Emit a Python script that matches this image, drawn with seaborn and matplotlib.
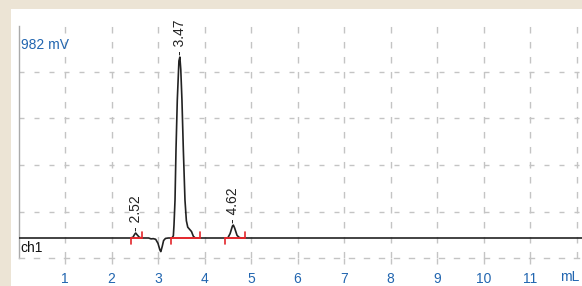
import matplotlib
matplotlib.use("Agg")
import matplotlib.pyplot as plt
from matplotlib.patches import Rectangle
import seaborn as sns
import pandas as pd

# ---- data ----
volume_ml = [0.00, 2.40, 2.46, 2.50, 2.52, 2.55, 2.60, 2.65, 2.80, 2.85, 2.90,
             2.95, 3.00, 3.04, 3.06, 3.09, 3.12, 3.16, 3.22, 3.30, 3.33, 3.344,
             3.366, 3.387, 3.415, 3.45, 3.47, 3.49, 3.515, 3.545, 3.58, 3.61,
             3.64, 3.68, 3.72, 3.76, 3.80, 4.50, 4.55, 4.60, 4.62, 4.65, 4.70,
             4.75, 4.80, 12.12]
signal_mv = [0, 0, 3, 18, 23, 15, 3, 0, 0, -4, -3,
             -6, -25, -55, -63, -40, -12, -2, 0, 0, 10, 60,
             176, 408, 639, 820, 838, 780, 639, 408, 176, 80,
             50, 40, 30, 8, 0, 0, 20, 55, 60, 45, 12,
             2, 0, 0]
peak_rt = [2.52, 3.47, 4.62]
peak_height = [23, 838, 60]
peak_start = [2.42, 3.27, 4.44]
peak_end = [2.66, 3.91, 4.87]
x_ticks = [1, 2, 3, 4, 5, 6, 7, 8, 9, 10, 11]
x_unit = "mL"
y_label = "982 mV"
channel = "ch1"

# ---- style ----
sns.set_style("white")
plt.rcParams["font.family"] = ["Liberation Sans", "DejaVu Sans"]
plt.rcParams["lines.scale_dashes"] = False

BLUE = "#2266b0"
GRID = "#c4c4c4"
RED = "#e3262b"
FS = 10

fig = plt.figure(figsize=(5.82, 2.86), dpi=100, facecolor="#ece4d5")
fig.patches.append(Rectangle((11 / 582, 0), 1, (286 - 9) / 286,
                             transform=fig.transFigure, facecolor="white",
                             edgecolor="none", zorder=-5))
ax = fig.add_axes([18.5 / 582, 1 - 258 / 286, 1 - 18.5 / 582, 232 / 286])
ax.set_zorder(2)
ax.set_facecolor("none")

ymax = 982.0
ymin = -ymax * 20 / 212
ax.set_xlim(0, 563.5 / 46.5)
ax.set_ylim(ymin, ymax)

# grid
step = (ymax - ymin) * 46.5 / 232
hy = [ymin + step * k for k in range(1, 5)]
for y in hy:
    ax.axhline(y, color=GRID, lw=1.0, ls=(0, (3.6, 7.2)), zorder=1)
for x in x_ticks + [12]:
    ax.axvline(x, color=GRID, lw=1.0, ls=(0, (4.7, 6.1)), zorder=1)

df = pd.DataFrame({"mL": volume_ml, "mV": signal_mv})
sns.lineplot(data=df, x="mL", y="mV", ax=ax, color="#222222", lw=1.2,
             zorder=3, estimator=None, sort=False)

# integration marks
tick_h = 28
for s, e in zip(peak_start, peak_end):
    ax.plot([s, e], [0, 0], color=RED, lw=1.4, zorder=4)
    ax.plot([s, s], [0, -tick_h], color=RED, lw=1.2, zorder=4)
    ax.plot([e, e], [0, tick_h], color=RED, lw=1.2, zorder=4)

# peak labels
for rt, h in zip(peak_rt, peak_height):
    ax.annotate(f"- {rt:.2f}", xy=(rt, h), xytext=(0, 1.5),
                textcoords="offset points", rotation=90, ha="center",
                va="bottom", fontsize=FS, color="#222222", zorder=5,
                annotation_clip=False)

# spines / ticks
ax.spines["top"].set_visible(False)
ax.spines["right"].set_visible(False)
ax.spines["left"].set_color("#aaaaaa")
ax.spines["left"].set_linewidth(1.0)
ax.spines["bottom"].set_color(GRID)
ax.spines["bottom"].set_linewidth(1.0)
ax.spines["bottom"].set_linestyle((0, (3.6, 7.2)))

ax.set_xticks(x_ticks)
ax.set_xticklabels([str(t) for t in x_ticks])
ax.set_yticks([])
ax.tick_params(axis="x", length=4, width=1, color=GRID, pad=6,
               labelsize=FS, labelcolor=BLUE, direction="out", bottom=True)
ax.set_xlabel("")
ax.set_ylabel("")

ax.text((569.5 - 18.5) / 46.5, -0.084, x_unit, transform=ax.get_xaxis_transform(),
        ha="center", va="center", fontsize=FS, color=BLUE, clip_on=False)
ax.text(0.004, (258 - 45) / 232, y_label, transform=ax.transAxes, ha="left",
        va="center", fontsize=FS, color=BLUE)
ax.text(0.004, (258 - 248.5) / 232, channel, transform=ax.transAxes, ha="left",
        va="center", fontsize=FS, color="#111111")

fig.savefig("out.png", dpi=100, facecolor=fig.get_facecolor())
